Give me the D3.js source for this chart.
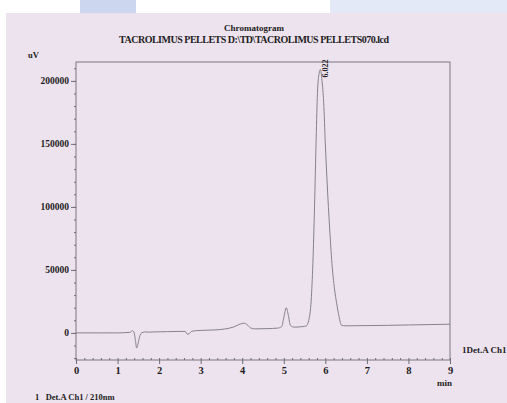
<!DOCTYPE html>
<html>
<head>
<meta charset="utf-8">
<script src="https://d3js.org/d3.v7.min.js"></script>
<style>
    body { margin: 0; background: #ffffff; }
    text { font-family: "Liberation Serif", "DejaVu Serif", serif; font-weight: bold; fill: #1e1c22; }
    .axis path, .axis line { stroke: #6e6b74; stroke-width: 1px; }
    .axis text { font-size: 9.5px; }
</style>
</head>
<body>
<div id="container"></div>
<script>
    // retention time (min) and detector signal (uV)
    const times  = [0, 0.5, 1.0, 1.3, 1.36, 1.40, 1.43, 1.46, 1.49, 1.53, 1.58, 1.65, 1.75, 1.9, 2.2, 2.5, 2.63, 2.68, 2.72, 2.78, 2.9, 3.2, 3.45, 3.6, 3.8, 3.95, 4.05, 4.12, 4.2, 4.3, 4.6, 4.85, 4.95, 5.0, 5.06, 5.11, 5.16, 5.25, 5.45, 5.54, 5.60, 5.66, 5.70, 5.74, 5.78, 5.81, 5.85, 5.88, 5.92, 5.96, 6.00, 6.05, 6.10, 6.16, 6.22, 6.27, 6.33, 6.39, 6.5, 7.0, 7.5, 8.0, 8.5, 9.0];
    const signal = [0, 0, 0, 500, 1800, 0, -6000, -12000, -9000, -3000, 0, 800, 600, 800, 1000, 1200, 1200, -1000, -800, 1200, 1800, 2200, 2600, 3200, 4800, 7000, 7700, 6500, 4000, 3200, 3400, 3800, 5000, 12000, 20000, 14000, 6000, 4600, 5000, 5500, 10000, 26000, 55000, 100000, 155000, 190000, 206000, 209000, 200000, 183000, 150000, 115000, 85000, 55000, 35000, 24000, 13000, 6000, 5600, 5800, 6000, 6300, 6600, 6900];

    const xTicks = [0, 1, 2, 3, 4, 5, 6, 7, 8, 9];
    const yTicks = [0, 50000, 100000, 150000, 200000];
    const peakTime = 5.88;
    const peakLabel = "6.022";

    const W = 507, H = 403;
    const svg = d3.select("#container").append("svg")
        .attr("width", W).attr("height", H);

    // photographed page: white strip at the top, pinkish paper below
    svg.append("rect").attr("x", 0).attr("y", 0).attr("width", W).attr("height", H).attr("fill", "#ffffff");
    svg.append("rect").attr("x", 80).attr("y", 0).attr("width", 56).attr("height", 13).attr("fill", "#cdd6ef");
    svg.append("rect").attr("x", 330).attr("y", 0).attr("width", 177).attr("height", 13).attr("fill", "#e3e9f7");
    svg.append("rect").attr("x", 6).attr("y", 13).attr("width", W - 6).attr("height", H - 13).attr("fill", "#ece3ee");

    const x = d3.scaleLinear().domain([0, 9]).range([76, 450]);
    const y = d3.scaleLinear().domain([-21500, 215000]).range([360, 62]);

    // frame
    svg.append("rect")
        .attr("x", x(0)).attr("y", y(215000))
        .attr("width", x(9) - x(0)).attr("height", y(-21500) - y(215000))
        .attr("fill", "none").attr("stroke", "#7a7780").attr("stroke-width", 1);

    // y axis: major + minor ticks
    svg.append("g").attr("class", "axis")
        .attr("transform", `translate(${x(0)},0)`)
        .call(d3.axisLeft(y).tickValues(d3.range(-20000, 215000, 10000)).tickSize(2).tickFormat(""))
        .call(g => g.select(".domain").remove());
    svg.append("g").attr("class", "axis")
        .attr("transform", `translate(${x(0)},0)`)
        .call(d3.axisLeft(y).tickValues(yTicks).tickSize(5).tickPadding(2).tickFormat(d3.format("d")))
        .call(g => g.select(".domain").remove());

    // x axis: major + minor ticks
    svg.append("g").attr("class", "axis")
        .attr("transform", `translate(0,${y(-21500)})`)
        .call(d3.axisTop(x).tickValues(d3.range(0, 9.01, 0.2)).tickSize(2).tickFormat(""))
        .call(g => g.select(".domain").remove());
    svg.append("g").attr("class", "axis")
        .attr("transform", `translate(0,${y(-21500)})`)
        .call(d3.axisBottom(x).tickValues(xTicks).tickSize(4).tickPadding(3).tickFormat(d3.format("d")))
        .call(g => g.select(".domain").remove())
        .selectAll("text").style("font-size", "10.5px");

    // trace
    const pts = times.map((t, i) => [t, signal[i]]);
    svg.append("path")
        .datum(pts)
        .attr("fill", "none")
        .attr("stroke", "#85828c")
        .attr("stroke-width", 1)
        .attr("d", d3.line().x(d => x(d[0])).y(d => y(d[1])).curve(d3.curveMonotoneX));

    // peak label
    svg.append("text")
        .attr("transform", `translate(${x(peakTime) + 8},${y(209000) + 8}) rotate(-90)`)
        .attr("font-size", "8px")
        .text(peakLabel);

    // titles and labels
    svg.append("text").attr("x", 254).attr("y", 31).attr("text-anchor", "middle")
        .attr("font-size", "9px").text("Chromatogram");
    svg.append("text").attr("x", 254).attr("y", 43).attr("text-anchor", "middle")
        .attr("font-size", "10px").attr("textLength", 270).text("TACROLIMUS PELLETS D:\\TD\\TACROLIMUS PELLETS070.lcd");
    svg.append("text").attr("x", 28).attr("y", 58).attr("font-size", "8.5px").text("uV");
    svg.append("text").attr("x", 437).attr("y", 386).attr("font-size", "9px").text("min");
    svg.append("text").attr("x", 462).attr("y", 353).attr("font-size", "9px").text("1Det.A Ch1");
    svg.append("text").attr("x", 35).attr("y", 400).attr("font-size", "8.5px")
        .attr("xml:space", "preserve").text("1   Det.A Ch1 / 210nm");
</script>
</body>
</html>
